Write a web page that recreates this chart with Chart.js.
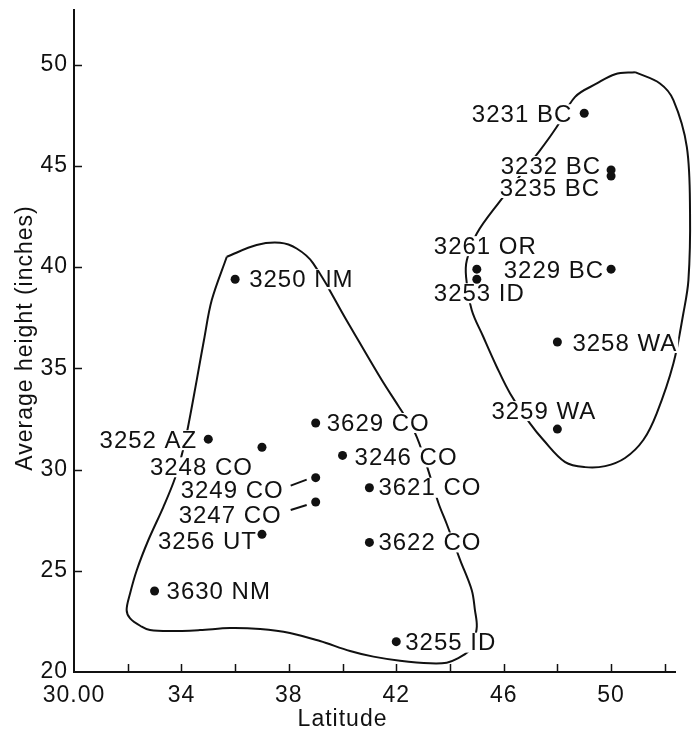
<!DOCTYPE html>
<html>
<head>
<meta charset="utf-8">
<script src="https://cdn.jsdelivr.net/npm/chart.js@4.4.0/dist/chart.umd.min.js"></script>
<style>
  html, body { margin: 0; padding: 0; background: #fff; }
  #wrap { width: 696px; height: 737px; }
</style>
</head>
<body>
<div id="wrap"><canvas id="chart"></canvas></div>
<script>
  "use strict";

  // seed sources: station, latitude, average height
  const stations = ['3231 BC', '3232 BC', '3235 BC', '3261 OR', '3229 BC', '3253 ID', '3258 WA', '3259 WA',
    '3252 AZ', '3248 CO', '3249 CO', '3247 CO', '3256 UT', '3630 NM', '3629 CO', '3246 CO',
    '3621 CO', '3622 CO', '3250 NM', '3255 ID'];
  const latitude = [49, 50, 50, 45, 50, 45, 48, 48, 35, 37, 39, 39, 37, 33, 39, 40, 41, 41, 36, 42];
  const avgHeight = [47.6, 44.8, 44.5, 39.9, 39.9, 39.4, 36.3, 32.0, 31.5, 31.1, 29.6, 28.4, 26.8, 24.0,
    32.3, 30.7, 29.1, 26.4, 39.4, 21.5];

  // hand drawn group outlines (closed)
  const northLat = [50.89, 51.82, 52.32, 52.82, 52.94, 52.88, 52.69, 52.32, 51.70, 51.20, 50.52, 49.78, 49.03,
    48.29, 47.48, 46.98, 46.24, 45.74, 45.24, 44.81, 44.60, 44.63, 45.00, 45.80, 47.36, 47.98, 48.66, 49.47, 50.15, 50.89];
  const northHeight = [49.63, 49.07, 48.25, 45.94, 42.65, 39.36, 37.71, 35.24, 32.78, 31.46, 30.57, 30.17, 30.12,
    30.37, 31.46, 32.28, 33.76, 35.08, 36.56, 37.88, 39.52, 40.35, 41.66, 43.15, 45.78, 46.93, 48.41, 49.07, 49.53, 49.63];
  const southLat = [35.69, 36.80, 37.67, 38.29, 38.90, 40.17, 41.46, 42.08, 42.70, 43.14, 43.57, 43.88, 44.38, 44.81,
    44.93, 45.00, 44.87, 44.75, 44.31, 43.88, 43.26, 42.14, 41.15, 40.28, 39.16, 38.04, 36.93, 35.81, 34.69, 33.58,
    32.83, 32.52, 32.09, 31.96, 32.09, 32.34, 32.77, 33.33, 33.76, 34.06, 34.26, 34.57, 34.84, 35.13, 35.69];
  const southHeight = [40.51, 41.09, 41.20, 40.92, 40.20, 37.33, 34.42, 33.14, 31.80, 30.17, 28.35, 27.31, 25.53, 24.05,
    23.06, 22.24, 21.42, 21.09, 20.68, 20.46, 20.43, 20.56, 20.76, 21.04, 21.53, 21.93, 22.12, 22.17, 22.07, 22.02,
    22.07, 22.24, 22.65, 23.06, 23.89, 25.04, 26.52, 28.16, 29.57, 30.96, 32.20, 34.42, 36.40, 38.37, 40.51];

  const xTicks = [30, 32, 34, 36, 38, 40, 42, 44, 46, 48, 50, 52];
  const xTickLabelValues = [30, 34, 38, 42, 46, 50];
  const xTickLabelText = ['30.00', '34', '38', '42', '46', '50'];
  const yTicks = [20, 25, 30, 35, 40, 45, 50];

  // label placement in px relative to the dot: [dx, dy, align]
  const labelPlace = [
    [-12, 1, 'right'], [-10, -4, 'right'], [-11, 12, 'right'], [-43, -23, 'left'], [-7, 1, 'right'],
    [-43, 14, 'left'], [15, 1, 'left'], [-66, -18, 'left'], [-11, 1, 'right'], [-9, 20, 'right'],
    [-32, 13, 'right'], [-34, 13, 'right'], [-5, 7, 'right'], [12, 0, 'left'], [11, 0, 'left'],
    [12, 2, 'left'], [9, 0, 'left'], [9, 0, 'left'], [14, 0, 'left'], [9, 1, 'left']
  ];
  const leaders = { 10: [-25, 8, -9, 2], 11: [-25, 8, -9, 3] };

  const ink = '#111';
  const family = "'Liberation Sans', Arial, Helvetica, sans-serif";
  const pts = (xs, ys) => xs.map((v, i) => ({ x: v, y: ys[i] }));

  function labelBoxes(chart, fn) {
    const { ctx } = chart;
    const meta = chart.getDatasetMeta(0);
    ctx.save();
    ctx.font = '24px ' + family;
    ctx.letterSpacing = '1px';
    ctx.textBaseline = 'middle';
    meta.data.forEach((el, i) => {
      const [dx, dy, align] = labelPlace[i];
      const w = ctx.measureText(stations[i]).width;
      const x0 = align === 'right' ? el.x + dx - w : el.x + dx;
      fn(ctx, stations[i], x0, el.y + dy, w, i, el);
    });
    ctx.restore();
  }

  const stationLabels = {
    id: 'stationLabels',
    afterDatasetDraw(chart, args) {
      if (args.index !== 1) return;
      labelBoxes(chart, (ctx, t, x0, y, w) => {
        ctx.fillStyle = '#fff';
        ctx.fillRect(x0 - 1, y - 10, w + 2, 20);
      });
    },
    afterDatasetsDraw(chart) {
      labelBoxes(chart, (ctx, t, x0, y, w, i, el) => {
        ctx.fillStyle = ink;
        ctx.textAlign = 'left';
        ctx.fillText(t, x0, y + 1);
        if (leaders[i]) {
          const l = leaders[i];
          ctx.strokeStyle = ink;
          ctx.lineWidth = 2;
          ctx.beginPath();
          ctx.moveTo(el.x + l[0], el.y + l[1]);
          ctx.lineTo(el.x + l[2], el.y + l[3]);
          ctx.stroke();
        }
      });
    }
  };

  const innerTicks = {
    id: 'innerTicks',
    beforeDraw(chart) { chart.ctx.letterSpacing = '1px'; },
    afterDraw(chart) {
      const { ctx, chartArea, scales: { x, y } } = chart;
      ctx.save();
      ctx.strokeStyle = ink;
      ctx.lineWidth = 1.5;
      ctx.beginPath();
      xTicks.slice(1).forEach(v => {
        const px = Math.round(x.getPixelForValue(v)) + 0.5;
        ctx.moveTo(px, chartArea.bottom);
        ctx.lineTo(px, chartArea.bottom - 8);
      });
      yTicks.slice(1).forEach(v => {
        const py = Math.round(y.getPixelForValue(v)) + 0.5;
        ctx.moveTo(chartArea.left, py);
        ctx.lineTo(chartArea.left + 8, py);
      });
      ctx.stroke();

      // axis titles
      ctx.fillStyle = ink;
      ctx.font = '23px ' + family;
      ctx.letterSpacing = '1px';
      ctx.textAlign = 'center';
      ctx.textBaseline = 'middle';
      ctx.fillText('Latitude', x.getPixelForValue(40), 720);
      ctx.translate(26, 338);
      ctx.rotate(-Math.PI / 2);
      ctx.fillText('Average height (inches)', 0, 0);
      ctx.restore();
    }
  };

  new Chart(document.getElementById('chart'), {
    type: 'scatter',
    data: {
      datasets: [{
        label: 'Seed sources',
        data: pts(latitude, avgHeight),
        pointRadius: 4.5,
        pointBackgroundColor: ink,
        pointBorderWidth: 0,
        showLine: false
      }, {
        label: 'Southern group',
        data: pts(southLat, southHeight),
        showLine: true,
        borderColor: ink,
        borderWidth: 2,
        pointRadius: 0,
        tension: 0.35,
        capBezierPoints: false,
        clip: false
      }, {
        label: 'Northern group',
        data: pts(northLat, northHeight),
        showLine: true,
        borderColor: ink,
        borderWidth: 2,
        pointRadius: 0,
        tension: 0.35,
        capBezierPoints: false,
        clip: false
      }]
    },
    options: {
      responsive: true,
      maintainAspectRatio: false,
      animation: false,
      events: [],
      layout: { padding: { top: 10, right: 21, left: 0, bottom: 0 } },
      plugins: { legend: { display: false }, tooltip: { enabled: false } },
      scales: {
        x: {
          type: 'linear',
          min: 30,
          max: 52.38,
          afterBuildTicks: s => { s.ticks = xTicks.map(v => ({ value: v })); },
          afterFit: s => { s.height = 65; s.paddingLeft = 0; s.paddingRight = 0; },
          grid: { drawOnChartArea: false, drawTicks: false },
          border: { color: ink, width: 2 },
          ticks: {
            padding: 10,
            color: ink,
            autoSkip: false,
            maxRotation: 0,
            font: { family: family, size: 23 },
            callback: v => {
              const k = xTickLabelValues.indexOf(v);
              return k < 0 ? '' : xTickLabelText[k];
            }
          }
        },
        y: {
          type: 'linear',
          min: 20,
          max: 52.7,
          afterBuildTicks: s => { s.ticks = yTicks.map(v => ({ value: v })); },
          afterFit: s => { s.width = 74; s.paddingTop = 0; s.paddingBottom = 0; },
          grid: { drawOnChartArea: false, drawTicks: false },
          border: { color: ink, width: 2 },
          ticks: {
            padding: 6,
            color: ink,
            font: { family: family, size: 23 }
          }
        }
      }
    },
    plugins: [stationLabels, innerTicks]
  });
</script>
</body>
</html>
